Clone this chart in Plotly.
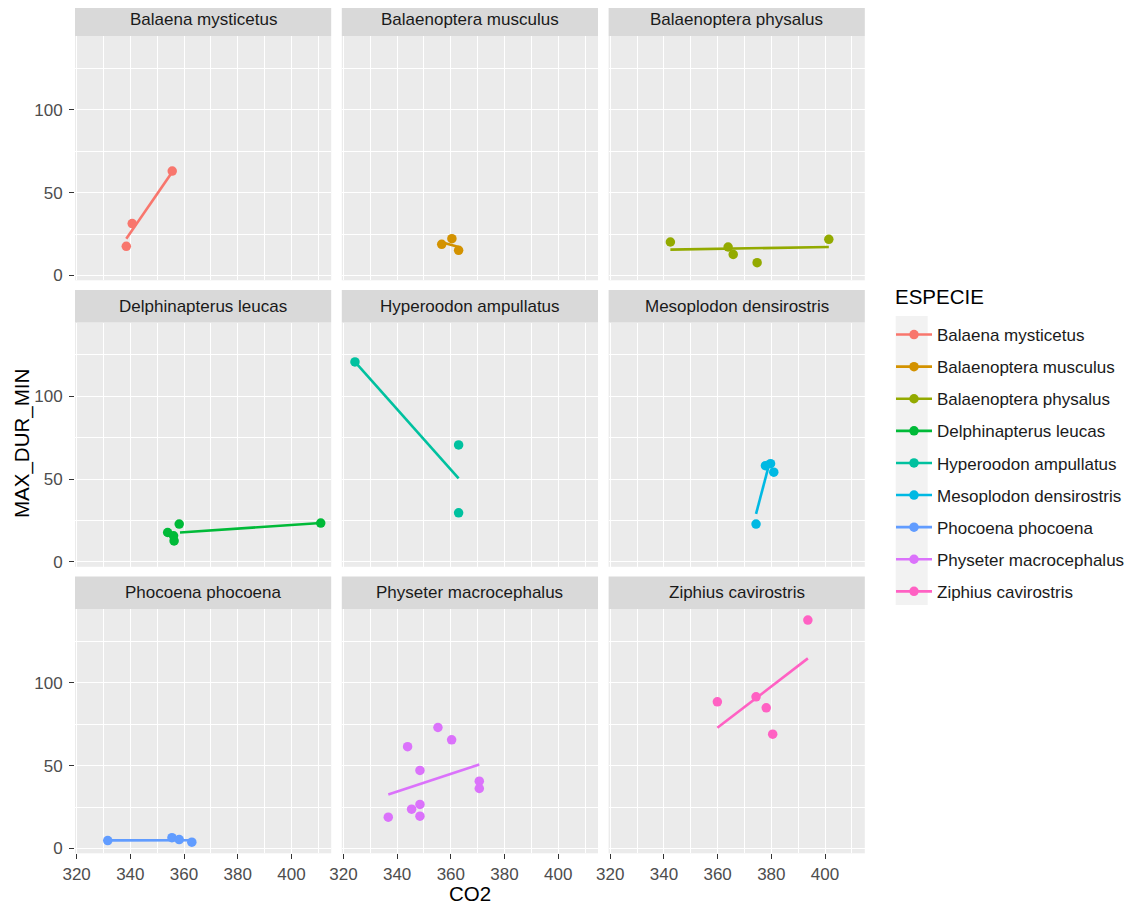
import plotly.graph_objects as go

# ---------------- data ----------------
species = [
    "Balaena mysticetus", "Balaenoptera musculus", "Balaenoptera physalus",
    "Delphinapterus leucas", "Hyperoodon ampullatus", "Mesoplodon densirostris",
    "Phocoena phocoena", "Physeter macrocephalus", "Ziphius cavirostris",
]
colors = ["#F8766D", "#D39200", "#93AA00", "#00BA38", "#00C19F",
          "#00B9E3", "#619CFF", "#DB72FB", "#FF61C3"]

co2_balaena = [338.5, 340.7, 355.6]
dur_balaena = [17.6, 31.3, 63.0]
co2_musculus = [356.6, 360.4, 362.9]
dur_musculus = [18.8, 22.2, 15.2]
co2_physalus = [342.4, 363.9, 365.8, 374.7, 401.4]
dur_physalus = [20.2, 17.2, 12.7, 7.7, 21.8]
co2_delphin = [353.9, 356.1, 356.3, 358.2, 410.9]
dur_delphin = [17.8, 15.8, 12.7, 22.9, 23.5]
co2_hyper = [324.3, 362.9, 362.9]
dur_hyper = [120.7, 70.6, 29.7]
co2_meso = [374.3, 377.8, 379.7, 380.9]
dur_meso = [22.9, 58.1, 59.3, 54.2]
co2_phoc = [331.6, 355.5, 358.2, 362.9]
dur_phoc = [4.8, 6.5, 5.4, 3.8]
co2_physeter = [336.7, 343.9, 345.4, 348.5, 348.5, 348.5, 355.2, 360.3, 370.6, 370.6]
dur_physeter = [18.9, 61.4, 23.7, 47.1, 26.6, 19.5, 73.0, 65.6, 40.6, 36.2]
co2_ziphius = [359.9, 374.3, 378.1, 380.5, 393.6]
dur_ziphius = [88.5, 91.5, 84.9, 69.0, 137.8]

# fitted (lm) line end points, per species
fit_x0 = [338.5, 356.6, 342.4, 358.5, 324.3, 374.3, 331.6, 336.7, 359.9]
fit_x1 = [355.6, 362.9, 401.4, 410.9, 362.9, 379.5, 362.9, 370.6, 393.6]
fit_y0 = [22.2, 20.0, 15.6, 17.8, 120.7, 29.0, 4.9, 32.6, 72.8]
fit_y1 = [62.4, 17.2, 17.2, 23.5, 50.5, 61.0, 5.0, 50.7, 114.7]

co2_all = [co2_balaena, co2_musculus, co2_physalus, co2_delphin, co2_hyper,
           co2_meso, co2_phoc, co2_physeter, co2_ziphius]
dur_all = [dur_balaena, dur_musculus, dur_physalus, dur_delphin, dur_hyper,
           dur_meso, dur_phoc, dur_physeter, dur_ziphius]

x_ticks = [320, 340, 360, 380, 400]
y_ticks = [0, 50, 100]

# ---------------- layout geometry (screen pixels) ----------------
OFF = 8  # default page body margin
W, H = 1133 - OFF, 909 - OFF


def px(x):
    return (x - OFF) / W


def py(y):
    return 1 - (y - OFF) / H


col_left = [75.0, 341.8, 608.6]
col_w = 256.2
row_top = [36.0, 322.5, 609.0]
row_h = 244.3
strip_h = 32.5
x_range = [319.4, 414.8]
y_range = [-2.9, 144.5]

fig = go.Figure()
layout = dict(
    width=W, height=H,
    margin=dict(l=0, r=0, t=0, b=0, autoexpand=False),
    paper_bgcolor="white",
    plot_bgcolor="#EBEBEB",
    font=dict(family="Liberation Sans, Arial, sans-serif", color="#4D4D4D", size=17),
    showlegend=True,
)
shapes = []
annotations = []

for i, sp in enumerate(species):
    r, c = divmod(i, 3)
    n = i + 1
    xa = "x" if n == 1 else f"x{n}"
    ya = "y" if n == 1 else f"y{n}"
    x0p, x1p = col_left[c], col_left[c] + col_w
    y0p, y1p = row_top[r], row_top[r] + row_h
    xkey = "xaxis" if n == 1 else f"xaxis{n}"
    ykey = "yaxis" if n == 1 else f"yaxis{n}"
    show_x = (r == 2)
    show_y = (c == 0)
    layout[xkey] = dict(
        domain=[px(x0p), px(x1p)], range=x_range, anchor=ya,
        tickvals=x_ticks, showticklabels=show_x,
        ticks="outside" if show_x else "", ticklen=5, tickwidth=1.4, tickcolor="#333333",
        showgrid=True, gridcolor="white", gridwidth=1.4, zeroline=False,
        showline=False, tickfont=dict(size=17, color="#4D4D4D"),
        minor=dict(tickvals=[330, 350, 370, 390, 410], showgrid=True,
                   gridcolor="white", gridwidth=0.7),
        ticklabelstandoff=0,
    )
    layout[ykey] = dict(
        domain=[py(y1p), py(y0p)], range=y_range, anchor=xa,
        tickvals=y_ticks, showticklabels=show_y,
        ticks="outside" if show_y else "", ticklen=5, tickwidth=1.4, tickcolor="#333333",
        showgrid=True, gridcolor="white", gridwidth=1.4, zeroline=False,
        showline=False, tickfont=dict(size=17, color="#4D4D4D"),
        minor=dict(tickvals=[25, 75, 125], showgrid=True,
                   gridcolor="white", gridwidth=0.7),
        ticklabelstandoff=3,
    )
    # strip
    shapes.append(dict(type="rect", xref="paper", yref="paper",
                       x0=px(x0p), x1=px(x1p),
                       y0=py(y0p), y1=py(y0p - strip_h),
                       fillcolor="#D9D9D9", line=dict(width=0), layer="below"))
    annotations.append(dict(text=sp, xref="paper", yref="paper",
                            x=px((x0p + x1p) / 2), y=py(y0p - strip_h / 2),
                            xanchor="center", yanchor="middle", showarrow=False,
                            font=dict(size=17, color="#1A1A1A")))

    col = colors[i]
    # fitted line
    fig.add_trace(go.Scatter(
        x=[fit_x0[i], fit_x1[i]], y=[fit_y0[i], fit_y1[i]], mode="lines",
        line=dict(color=col, width=2.6), xaxis=xa, yaxis=ya,
        showlegend=False, legendgroup=sp, hoverinfo="skip"))
    # points
    fig.add_trace(go.Scatter(
        x=co2_all[i], y=dur_all[i], mode="markers",
        marker=dict(color=col, size=9.5, line=dict(width=0)),
        xaxis=xa, yaxis=ya, showlegend=False, legendgroup=sp, name=sp))
    # legend entry
    fig.add_trace(go.Scatter(
        x=[None], y=[None], mode="lines+markers", name=sp,
        line=dict(color=col, width=2.6), marker=dict(color=col, size=9.5),
        xaxis=xa, yaxis=ya, showlegend=True, legendgroup=sp))

# legend key background
shapes.append(dict(type="rect", xref="paper", yref="paper",
                   x0=px(895.7), x1=px(927.7), y0=py(605), y1=py(316),
                   fillcolor="#F2F2F2", line=dict(width=0), layer="below"))

# legend title
annotations.append(dict(text="ESPECIE", xref="paper", yref="paper",
                        x=px(893), y=py(297), xanchor="left", yanchor="middle",
                        showarrow=False, font=dict(size=20.5, color="black")))

# axis titles
annotations.append(dict(text="CO2", xref="paper", yref="paper",
                        x=px(470), y=py(893), xanchor="center", yanchor="middle",
                        showarrow=False, font=dict(size=20.5, color="black")))
annotations.append(dict(text="MAX_DUR_MIN", xref="paper", yref="paper",
                        x=px(22), y=py(444), xanchor="center", yanchor="middle",
                        textangle=-90, showarrow=False,
                        font=dict(size=20.5, color="black")))

layout["shapes"] = shapes
layout["annotations"] = annotations
layout["legend"] = dict(
    x=px(891), y=py(317), xanchor="left", yanchor="top",
    bgcolor="rgba(0,0,0,0)", borderwidth=0,
    font=dict(size=17, color="#1A1A1A"),
    tracegroupgap=7, traceorder="grouped", itemwidth=36,
)
fig.update_layout(**layout)

fig.write_html("out.html")
